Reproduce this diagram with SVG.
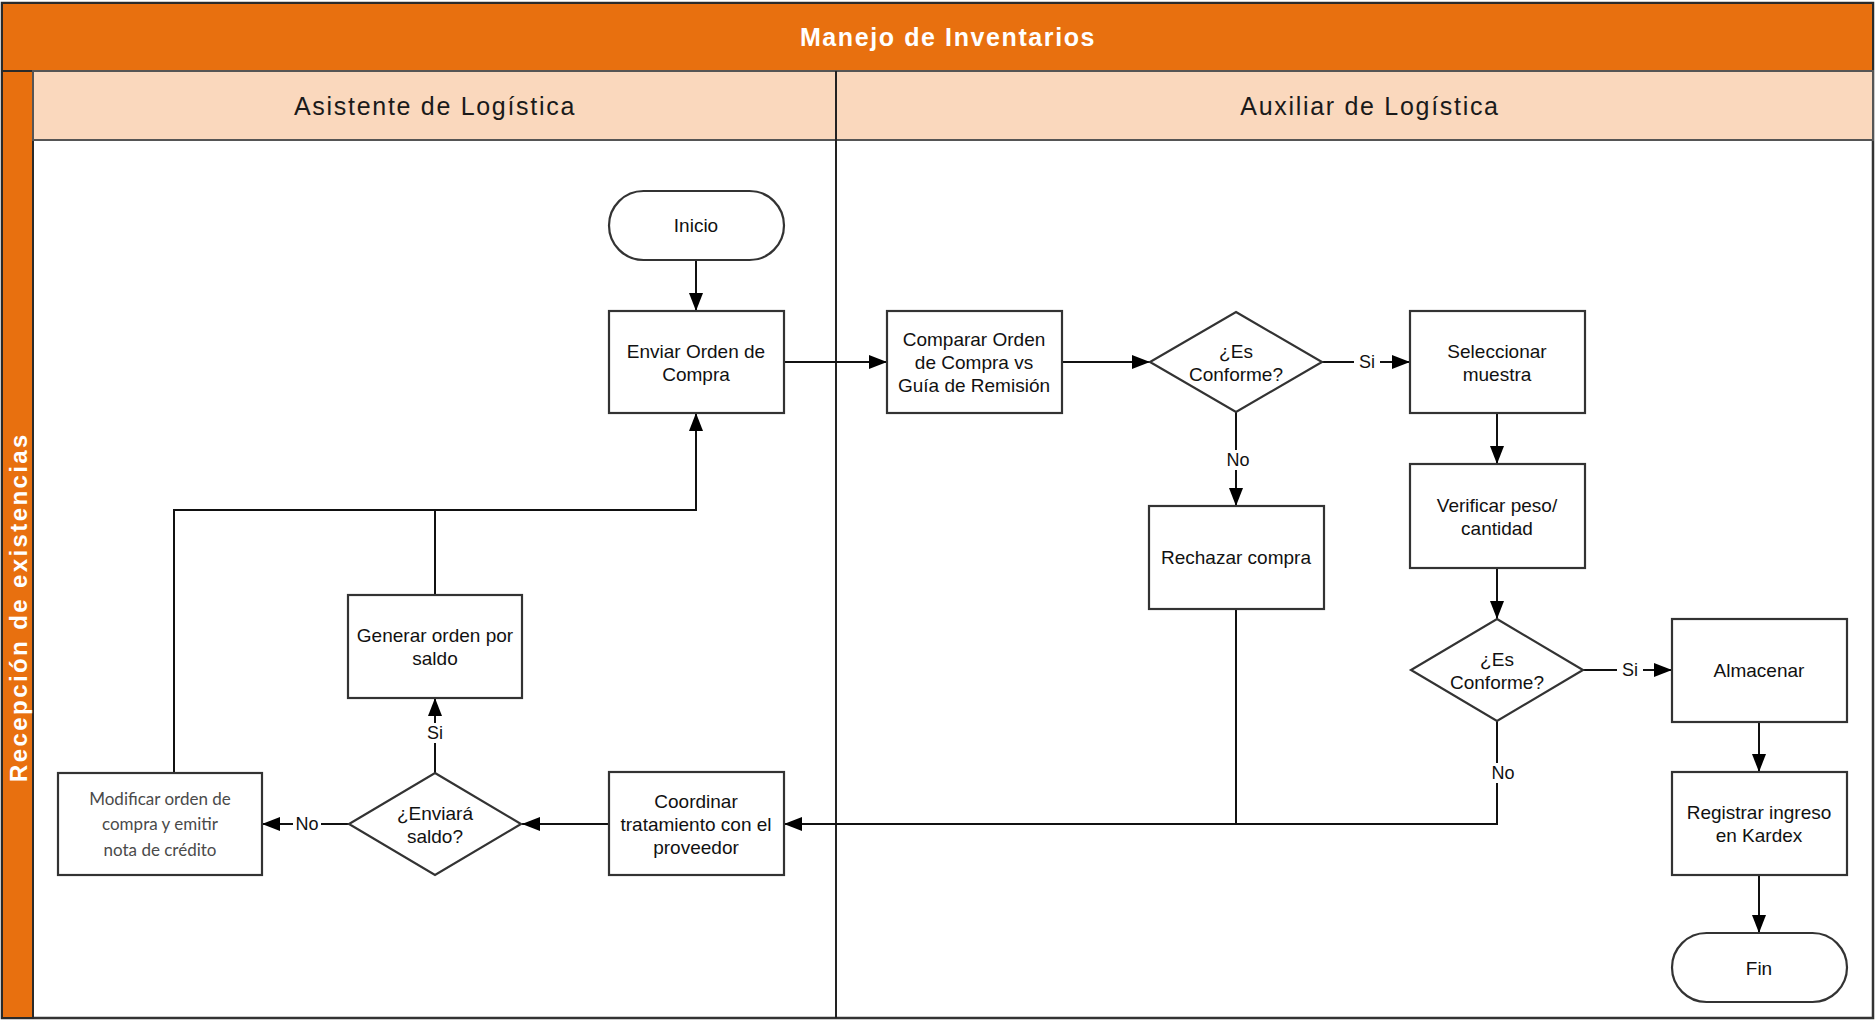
<svg xmlns="http://www.w3.org/2000/svg" width="1876" height="1022" viewBox="0 0 1876 1022">
<style>
.node{fill:#fff;stroke:#333;stroke-width:2.2}
.t{font-family:"Liberation Sans",Arial,sans-serif;font-size:19px;fill:#111;text-anchor:middle;dominant-baseline:central}
.lbl{font-family:"Liberation Sans",Arial,sans-serif;font-size:18px;fill:#111;text-anchor:middle;dominant-baseline:central}
.lblbg{fill:#fff}
.con{fill:none;stroke:#111;stroke-width:2}
.hdr{font-family:"Liberation Sans",Arial,sans-serif;font-size:25px;fill:#1a1a1a;text-anchor:middle;dominant-baseline:central;letter-spacing:1.7px}
.ttl{font-family:"Liberation Sans",Arial,sans-serif;font-size:25px;font-weight:bold;fill:#fff;text-anchor:middle;dominant-baseline:central;letter-spacing:1.6px}
.mod{font-family:Lato,"Open Sans",sans-serif;font-size:17px;fill:#4a4a4a;text-anchor:middle;dominant-baseline:central}
</style>
<defs>
<marker id="arr" markerUnits="userSpaceOnUse" markerWidth="19" markerHeight="15" refX="18" refY="7" orient="auto">
<path d="M0,0 L18,7 L0,14 z" fill="#000"/>
</marker>
</defs>
<rect x="0" y="0" width="1876" height="1022" fill="#fff"/>
<g id="pool">
<rect x="2" y="3" width="1871" height="1015" fill="#fff" stroke="#333" stroke-width="2.5"/>
<rect x="2" y="3" width="1871" height="68" fill="#E8700F" stroke="#2a2a2a" stroke-width="2"/>
<text class="ttl" x="948" y="37">Manejo de Inventarios</text>
<rect x="2" y="71" width="31" height="947" fill="#E8700F" stroke="#2a2a2a" stroke-width="2"/>
<text x="0" y="0" transform="translate(18,607) rotate(-90)" style="font-family:'Liberation Sans',Arial,sans-serif;font-size:24px;font-weight:bold;fill:#fff;text-anchor:middle;dominant-baseline:central;letter-spacing:2.4px">Recepción de existencias</text>
<rect x="33" y="71" width="1840" height="69" fill="#FAD8BD" stroke="#555" stroke-width="2"/>
<line x1="836" y1="71" x2="836" y2="1018" stroke="#222" stroke-width="2"/>
<text class="hdr" x="435" y="106">Asistente de Logística</text>
<text class="hdr" x="1370" y="106">Auxiliar de Logística</text>
</g>
<g id="connectors">
<line class="con" x1="696" y1="260" x2="696" y2="311" marker-end="url(#arr)"/>
<line class="con" x1="784" y1="362" x2="887" y2="362" marker-end="url(#arr)"/>
<line class="con" x1="1062" y1="362" x2="1150" y2="362" marker-end="url(#arr)"/>
<line class="con" x1="1322" y1="362" x2="1410" y2="362" marker-end="url(#arr)"/>
<line class="con" x1="1236" y1="412" x2="1236" y2="506" marker-end="url(#arr)"/>
<line class="con" x1="1497" y1="413" x2="1497" y2="464" marker-end="url(#arr)"/>
<line class="con" x1="1497" y1="568" x2="1497" y2="619" marker-end="url(#arr)"/>
<line class="con" x1="1583" y1="670" x2="1672" y2="670" marker-end="url(#arr)"/>
<line class="con" x1="1759" y1="722" x2="1759" y2="772" marker-end="url(#arr)"/>
<line class="con" x1="1759" y1="875" x2="1759" y2="933" marker-end="url(#arr)"/>
<polyline class="con" points="1497,721 1497,824 784,824" marker-end="url(#arr)"/>
<line class="con" x1="1236" y1="609" x2="1236" y2="824"/>
<line class="con" x1="609" y1="824" x2="522" y2="824" marker-end="url(#arr)"/>
<line class="con" x1="349" y1="824" x2="262" y2="824" marker-end="url(#arr)"/>
<line class="con" x1="435" y1="773" x2="435" y2="698" marker-end="url(#arr)"/>
<polyline class="con" points="174,773 174,510 696,510 696,413" marker-end="url(#arr)"/>
<line class="con" x1="435" y1="595" x2="435" y2="510"/>
<rect class="lblbg" x="1354" y="352" width="26" height="20"/>
<text class="lbl" x="1367" y="362">Si</text>
<rect class="lblbg" x="1222" y="450" width="28" height="20"/>
<text class="lbl" x="1238" y="460">No</text>
<rect class="lblbg" x="1617" y="660" width="26" height="20"/>
<text class="lbl" x="1630" y="670">Si</text>
<rect class="lblbg" x="1487" y="763" width="30" height="20"/>
<text class="lbl" x="1503" y="773">No</text>
<rect class="lblbg" x="423" y="723" width="24" height="20"/>
<text class="lbl" x="435" y="733">Si</text>
<rect class="lblbg" x="293" y="814" width="28" height="20"/>
<text class="lbl" x="307" y="824">No</text>
</g>
<g id="n-inicio"><rect class="node" x="609" y="191" width="175" height="69" rx="34.5"/><text class="t" x="696" y="225">Inicio</text></g>
<g id="n-enviar"><rect class="node" x="609" y="311" width="175" height="102"/><text class="t" x="696" y="351">Enviar Orden de</text><text class="t" x="696" y="374">Compra</text></g>
<g id="n-comparar"><rect class="node" x="887" y="311" width="175" height="102"/><text class="t" x="974" y="339">Comparar Orden</text><text class="t" x="974" y="362">de Compra vs</text><text class="t" x="974" y="385">Guía de Remisión</text></g>
<g id="n-conforme1"><polygon class="node" points="1236,312 1322,362 1236,412 1150,362"/><text class="t" x="1236" y="351">¿Es</text><text class="t" x="1236" y="374">Conforme?</text></g>
<g id="n-seleccionar"><rect class="node" x="1410" y="311" width="175" height="102"/><text class="t" x="1497" y="351">Seleccionar</text><text class="t" x="1497" y="374">muestra</text></g>
<g id="n-rechazar"><rect class="node" x="1149" y="506" width="175" height="103"/><text class="t" x="1236" y="557">Rechazar compra</text></g>
<g id="n-verificar"><rect class="node" x="1410" y="464" width="175" height="104"/><text class="t" x="1497" y="505">Verificar peso/</text><text class="t" x="1497" y="528">cantidad</text></g>
<g id="n-conforme2"><polygon class="node" points="1497,619 1583,670 1497,721 1411,670"/><text class="t" x="1497" y="659">¿Es</text><text class="t" x="1497" y="682">Conforme?</text></g>
<g id="n-almacenar"><rect class="node" x="1672" y="619" width="175" height="103"/><text class="t" x="1759" y="670">Almacenar</text></g>
<g id="n-registrar"><rect class="node" x="1672" y="772" width="175" height="103"/><text class="t" x="1759" y="812">Registrar ingreso</text><text class="t" x="1759" y="835">en Kardex</text></g>
<g id="n-fin"><rect class="node" x="1672" y="933" width="175" height="69" rx="34.5"/><text class="t" x="1759" y="968">Fin</text></g>
<g id="n-coordinar"><rect class="node" x="609" y="772" width="175" height="103"/><text class="t" x="696" y="801">Coordinar</text><text class="t" x="696" y="824">tratamiento con el</text><text class="t" x="696" y="847">proveedor</text></g>
<g id="n-enviara"><polygon class="node" points="435,773 521,824 435,875 349,824"/><text class="t" x="435" y="813">¿Enviará</text><text class="t" x="435" y="836">saldo?</text></g>
<g id="n-generar"><rect class="node" x="348" y="595" width="174" height="103"/><text class="t" x="435" y="635">Generar orden por</text><text class="t" x="435" y="658">saldo</text></g>
<g id="n-modificar"><rect class="node" x="58" y="773" width="204" height="102"/><text class="mod" x="160" y="798">Modificar orden de</text><text class="mod" x="160" y="823">compra y emitir</text><text class="mod" x="160" y="849">nota de crédito</text></g>
</svg>
